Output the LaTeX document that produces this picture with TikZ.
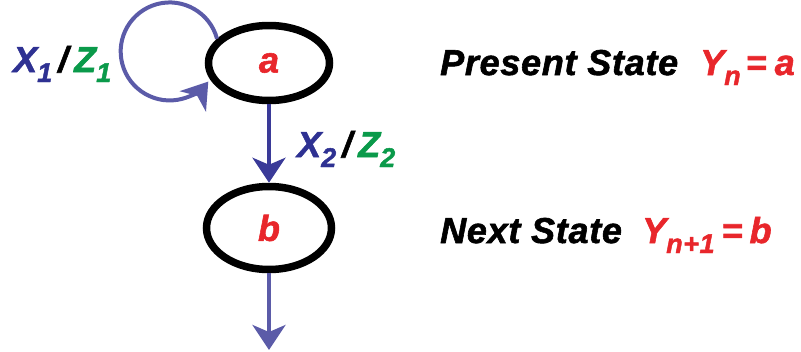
\documentclass[tikz,border=0pt]{standalone}
\usepackage{fontspec}
\newfontface\heavy{Liberation Sans Bold Italic}[FakeBold=1.6,LetterSpace=2]
\usetikzlibrary{arrows.meta,shapes.geometric}
\definecolor{sred}{HTML}{E8262B}
\definecolor{xblue}{HTML}{2E3192}
\definecolor{zgreen}{HTML}{0A9A4A}
\definecolor{arrA}{HTML}{3A3A98}
\definecolor{arrB}{HTML}{5B5BA8}
\newcommand\lowsub[1]{\raisebox{-10pt}{\fontsize{27}{27}\selectfont #1}}
\newcommand\slsh{\hspace{6pt}\textcolor{black}{/}\hspace{6pt}}
\begin{document}
\begin{tikzpicture}[x=1pt,y=-1pt,
  every node/.style={font=\fontsize{36}{40}\heavy, inner sep=0pt},
  state/.style={ellipse, draw=black, line width=7.5pt, text=sred},
  tr/.style={line width=4pt, -{Stealth[length=25pt,width=33pt,inset=7pt]}},
]
\useasboundingbox (0,0) rectangle (801,351);
\node[state, minimum width=121pt, minimum height=75pt] (a) at (269,63) {a};
\node[state, minimum width=125pt, minimum height=83pt] (b) at (269,228) {b};
\coordinate (end) at (269,350);
\draw[tr, arrB] (a.155) arc[start angle=-15, end angle=-322, radius=49];
\draw[tr, arrA] (a) -- (b);
\draw[tr, arrB] (b) -- (end);
\node[anchor=base west] (l1) at (13,72) {\textcolor{xblue}{X\lowsub{1}}\slsh\textcolor{zgreen}{Z\lowsub{1}}};
\node[anchor=base west] (l2) at (297,157) {\textcolor{xblue}{X\lowsub{2}}\slsh\textcolor{zgreen}{Z\lowsub{2}}};
\node[anchor=base west] (ps) at (440,75) {Present State};
\node[anchor=base west, text=sred] (yn) at (700,75) {Y\lowsub{n}\hspace{5pt}=\hspace{8pt}a};
\node[anchor=base west] (ns) at (440,243) {Next State};
\node[anchor=base west, text=sred] (yn1) at (642,243) {Y\lowsub{n+1}\hspace{7pt}=\hspace{7pt}b};
\end{tikzpicture}
\end{document}
